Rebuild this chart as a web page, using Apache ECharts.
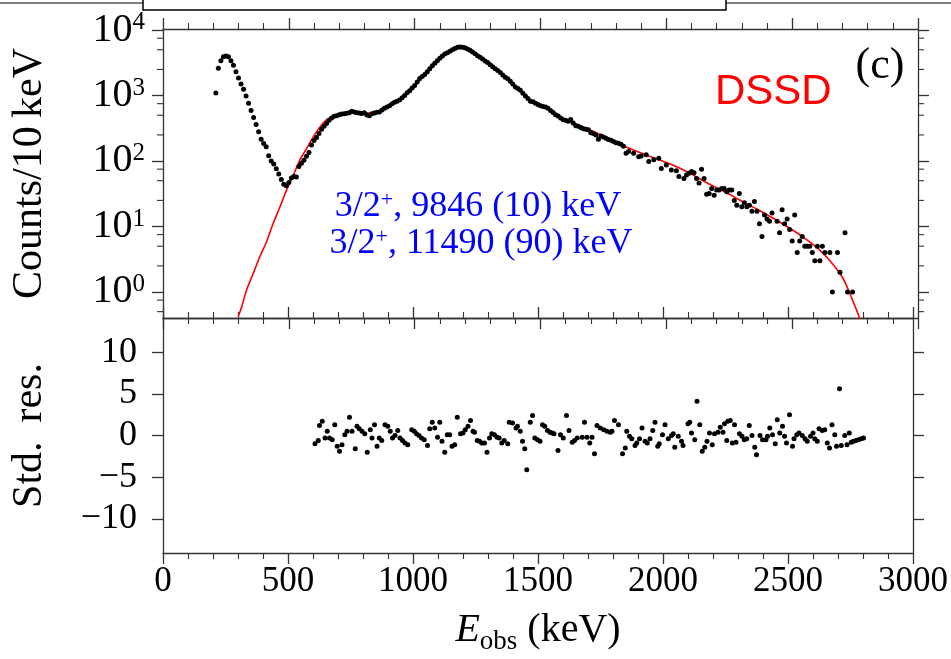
<!DOCTYPE html>
<html><head><meta charset="utf-8">
<script src="https://cdn.jsdelivr.net/npm/echarts@6/dist/echarts.min.js"></script>
<style>html,body{margin:0;padding:0;background:#fff}#c{width:951px;height:659px}</style>
</head><body><div id="c"></div>
<script>
// ---------- data ----------
const xTicks = [0, 500, 1000, 1500, 2000, 2500, 3000];
const countTicks = [1, 10, 100, 1000, 10000];
const countMinorTicks = [0.5, 0.75, 2.5, 5, 7.5, 25, 50, 75, 250, 500, 750, 2500, 5000, 7500];
const resTicks = [-10, -5, 0, 5, 10];

const dataE = [210,220,230,240,250,260,270,280,290,300,310,320,330,340,350,360,370,380,390,400,
410,420,430,440,450,460,470,480,490,500,510,520,530,540,550,560,570,580,590,600,
610,620,630,640,650,660,670,680,690,700,710,720,730,740,750,760,770,780,790,800,
810,820,830,840,850,860,870,880,890,900,910,920,930,940,950,960,970,980,990,1000,
1010,1020,1030,1040,1050,1060,1070,1080,1090,1100,1110,1120,1130,1140,1150,1160,1170,1180,1190,1200,
1210,1220,1230,1240,1250,1260,1270,1280,1290,1300,1310,1320,1330,1340,1350,1360,1370,1380,1390,1400,
1410,1420,1430,1440,1450,1460,1470,1480,1490,1500,1510,1520,1530,1540,1550,1560,1570,1580,1590,1600,
1610,1620,1630,1640,1650,1660,1670,1680,1690,1700,1710,1720,1730,1740,1750,1760,1770,1780,1790,1800,
1810,1820,1830,1840,1850,1870,1890,1900,1920,1930,1950,1970,1980,2000,2020,2040,2050,2070,2080,2090,
2100,2110,2120,2130,2140,2150,2160,2170,2180,2190,2200,2210,2220,2230,2240,2250,2260,2270,2280,2290,
2300,2310,2320,2330,2340,2350,2360,2370,2380,2390,2400,2410,2420,2440,2450,2460,2470,2480,2490,2500,
2510,2520,2530,2540,2550,2560,2570,2580,2590,2600,2610,2620,2630,2650,2660,2680,2690,2710,2720,2740];
const dataC = [1090,2600,3400,3900,4000,3900,3400,2900,2300,1850,1500,1250,980,760,590,460,360,280,215,185,
165,120,100,90,76,63,52,44,42,47,55,58,57,82,92,103,118,135,175,205,
228,262,305,340,375,420,455,480,490,510,520,525,535,545,575,560,545,540,530,545,
505,490,525,540,555,560,600,640,665,700,750,790,820,850,920,1000,1100,1180,1300,1420,
1600,1820,1950,2100,2300,2550,2850,3100,3400,3700,4000,4300,4500,4750,5000,5200,5450,5500,5450,5350,
5150,4900,4600,4350,4050,3850,3600,3350,3200,2950,2750,2550,2400,2250,2050,1900,1800,1650,1500,1350,
1280,1200,1080,980,900,820,800,760,730,700,680,670,640,590,550,510,485,455,425,420,
405,430,380,345,340,325,310,305,300,270,262,250,215,240,232,222,212,208,198,190,
186,180,168,131,139,131,116,119,124,98,104,110,77,87,73,71,58,54,61,65,
69,66,54,46,75,54,31,32,38,30,36,36,38,38,34,36,36,25,21,32,
20,23,20,21,17,24,17,11,7,15,13,12,16,12,8,18,11,13,9,6,
15,4,6,7,5,5,5,4,3,5,3,5,4,4,1,4,2,8,1,1];

const fitE = [299,313,332,359,385,412,438,465,491,518,544,571,597,624,650,690,730,770,810,850,
900,950,1000,1050,1100,1140,1180,1220,1260,1300,1350,1400,1450,1500,1550,1600,1650,1700,1750,1800,
1850,1900,1950,2000,2050,2100,2150,2200,2250,2300,2350,2400,2450,2500,2550,2600,2650,2700,2730,2750,2770,2790];
const fitV = [0.42,0.6,1.07,1.93,3.47,5.9,11.2,20,36,61,104,155,234,331,427,500,545,560,540,560,
720,930,1400,2280,3700,4750,5450,4900,3900,2950,2100,1400,920,710,550,427,355,295,240,192,
158,132,112,95,79,63,49,39,31,24.3,19.2,15.1,11.7,8.9,6.6,4.7,3.0,1.66,0.93,0.6,0.38,0.21];

const resE = [608,621,626,637,648,657,666,677,687,697,706,716,727,736,746,756,769,776,785,796,
807,817,829,836,846,856,865,875,888,899,909,918,928,939,948,958,968,979,995,1005,
1014,1024,1034,1045,1058,1067,1077,1087,1098,1107,1116,1127,1137,1147,1156,1167,1177,1190,1200,1209,
1220,1230,1240,1246,1257,1266,1275,1286,1296,1306,1315,1326,1336,1345,1355,1365,1379,1385,1398,1412,
1418,1429,1438,1447,1455,1469,1478,1487,1498,1508,1518,1527,1538,1548,1557,1564,1580,1590,1601,1614,
1624,1637,1646,1657,1677,1686,1696,1707,1716,1726,1736,1749,1763,1776,1789,1796,1806,1822,1838,1849,
1855,1866,1875,1888,1895,1906,1916,1928,1937,1948,1959,1968,1979,1985,1998,2008,2021,2034,2041,2047,
2061,2074,2080,2100,2107,2114,2127,2136,2147,2157,2167,2176,2186,2197,2206,2220,2229,2240,2246,2255,
2259,2269,2277,2286,2292,2306,2316,2325,2335,2345,2356,2367,2374,2388,2398,2412,2418,2427,2438,2449,
2457,2467,2478,2486,2494,2506,2518,2524,2535,2544,2557,2568,2577,2590,2600,2607,2617,2624,2637,2647,
2657,2666,2676,2687,2694,2706,2713,2727,2736,2745,2753,2762,2772,2782,2793,2802];
const resV = [-1.0,-0.6,1.2,1.7,-0.3,0.5,-0.3,-0.5,1.3,-1.3,-1.9,-1.1,0.1,0.5,2.2,0.5,-1.6,1.1,0.8,0.5,
0.2,-2.0,0.7,-0.3,1.3,-1.3,-0.3,-0.6,1.3,1.1,0.5,-0.3,0,0.6,-0.3,-0.6,-0.9,-1.1,0.7,0.5,
0.2,0,-0.3,-0.5,-1.2,0.8,1.6,0.9,-0.2,1.6,-0.7,-2.0,0.1,0.1,-1.3,-1.1,2.2,0.2,0.3,0.7,
1.1,1.8,0.5,0.4,-0.6,-0.7,-0.9,-0.9,-2.0,-0.3,0.2,0.1,-0.2,-0.3,-0.9,-0.6,-1.0,1.6,1.5,0.9,
1.1,0.5,-0.7,-1.6,-4.1,1.6,2.4,-0.3,-0.5,-0.7,1.3,1.1,0.6,0.4,0.3,0.2,-1.8,0.1,-0.3,2.4,
0.6,-0.8,-0.6,-0.3,-0.2,1.6,-0.2,-0.9,-0.2,-2.2,1.2,0.9,0.7,0.5,0.4,0.5,1.8,1.3,-2.2,-1.5,
0.5,-0.1,-0.4,-1.2,-0.9,-0.4,0.9,-0.7,-0.9,-0.4,0.6,1.6,-1.3,-1.0,0.1,1.3,-0.4,0,0.2,-1.4,
-0.1,-0.7,-1.2,1.4,1.6,0.3,-0.5,4.1,1.3,-1.9,-1.4,-0.7,0.3,-1.1,0.2,0.4,1.0,0.4,1.4,-0.6,
1.7,1.8,-0.9,1.3,-0.8,0.2,-0.1,-0.5,-0.4,1.2,0,-1.4,-2.3,0,-0.5,-0.5,-0.1,0.9,0.1,-1.0,
1.9,0.3,1.1,-0.1,-0.9,2.5,-1.3,-0.4,0.1,0.3,0,-0.4,-0.7,-0.1,0.3,-0.4,-0.7,0.8,0.6,0.7,
-0.9,-1.5,1.3,0.1,-1.3,5.6,-1.2,0,-1.1,0.3,-0.8,-0.7,-0.6,-0.5,-0.4,-0.3];

const stateLines = ['3/2{s|+}, 9846 (10) keV', '3/2{s|+}, 11490 (90) keV'];
const detectorLabel = 'DSSD';
const panelLabel = '(c)';

// ---------- chart ----------
const SERIF = '"Liberation Serif","Times New Roman",serif';
const AX = '#333';
const chart = echarts.init(document.getElementById('c'), null, {renderer: 'canvas'});

function xAxisDef(grid, pos, showLabel) {
  return {
    type: 'value', gridIndex: grid, position: pos, min: 0, max: 3000, interval: 500,
    axisLine: {show: true, onZero: false, lineStyle: {color: AX, width: 1.3}},
    axisTick: {show: true, inside: false, length: 11, lineStyle: {color: AX, width: 1.3}},
    minorTick: {show: true, splitNumber: 5, length: 6, lineStyle: {color: AX, width: 1.1}},
    splitLine: {show: false}, minorSplitLine: {show: false},
    axisLabel: {show: showLabel, color: '#000', fontFamily: SERIF, fontSize: 35, margin: 11,
      customValues: xTicks, showMinLabel: true, showMaxLabel: true, formatter: v => String(v)}
  };
}
function logAxisDef(pos, showLabel) {
  return {
    type: 'log', logBase: 10, gridIndex: 0, position: pos, min: 0.4, max: 10360,
    axisLine: {show: true, onZero: false, lineStyle: {color: AX, width: 1.3}},
    axisTick: {show: true, inside: false, length: 11, customValues: countTicks, lineStyle: {color: AX, width: 1.3}},
    splitLine: {show: false}, minorTick: {show: false},
    axisLabel: {show: showLabel, customValues: countTicks, margin: 18,
      formatter: v => '{b|10}{s|' + Math.round(Math.log10(v)) + '}',
      rich: {
        b: {fontFamily: SERIF, fontSize: 40, color: '#000', lineHeight: 40, verticalAlign: 'middle'},
        s: {fontFamily: SERIF, fontSize: 25, color: '#000', lineHeight: 25, verticalAlign: 'top'}
      }},
    name: showLabel ? 'Counts/10\u2009keV' : '', nameLocation: 'middle', nameRotate: 90, nameGap: 112,
    nameTextStyle: {fontFamily: SERIF, fontSize: 42, color: '#000'}
  };
}
function resAxisDef(pos, showLabel) {
  return {
    type: 'value', gridIndex: 1, position: pos, min: -14.1, max: 14.1,
    axisLine: {show: true, onZero: false, lineStyle: {color: AX, width: 1.3}},
    axisTick: {show: true, inside: false, length: 11, customValues: resTicks, lineStyle: {color: AX, width: 1.3}},
    splitLine: {show: false}, minorTick: {show: false},
    axisLabel: {show: showLabel, customValues: resTicks, margin: 26, color: '#000', fontFamily: SERIF, fontSize: 36,
      formatter: v => (v < 0 ? '\u2212' : '') + Math.abs(v)},
    name: showLabel ? 'Std.\u2009 res.' : '', nameLocation: 'middle', nameRotate: 90, nameGap: 112,
    nameTextStyle: {fontFamily: SERIF, fontSize: 42, color: '#000'}
  };
}

const xBottom = xAxisDef(1, 'bottom', true);
xBottom.name = '{i|E}{sub|obs} (keV)';
xBottom.nameLocation = 'middle';
xBottom.nameGap = 52;
xBottom.nameTextStyle = {fontFamily: SERIF, fontSize: 40, color: '#000', lineHeight: 50,
  rich: {
    i: {fontFamily: SERIF, fontSize: 40, fontStyle: 'italic', color: '#000', lineHeight: 50},
    sub: {fontFamily: SERIF, fontSize: 27, color: '#000', lineHeight: 27, verticalAlign: 'bottom'}
  }};

const option = {
  animation: false,
  backgroundColor: '#fff',
  grid: [
    {left: 163, right: 33, top: 29, height: 289},
    {left: 163, right: 33, top: 318, height: 235}
  ],
  xAxis: [xAxisDef(0, 'bottom', false), xAxisDef(0, 'top', false), xBottom, xAxisDef(1, 'top', false)],
  yAxis: [logAxisDef('left', true), logAxisDef('right', false), resAxisDef('left', true), resAxisDef('right', false)],
  series: [
    {type: 'line', name: 'fit', xAxisIndex: 0, yAxisIndex: 0, data: fitE.map((e, i) => [e, fitV[i]]),
      showSymbol: false, smooth: 0.3, clip: true, lineStyle: {color: '#ff0000', width: 1.6}, z: 2},
    {type: 'scatter', name: 'data', xAxisIndex: 0, yAxisIndex: 0, data: dataE.map((e, i) => [e, dataC[i]]),
      symbolSize: 5, itemStyle: {color: '#000', opacity: 1}, z: 3},
    {type: 'scatter', name: 'res', xAxisIndex: 2, yAxisIndex: 2, data: resE.map((e, i) => [e, resV[i]]),
      symbolSize: 5, itemStyle: {color: '#000', opacity: 1}, z: 3},
    {type: 'custom', name: 'minorTicks', xAxisIndex: 0, yAxisIndex: 0, clip: false, silent: true, z: 5,
      data: countMinorTicks.map(v => [xTicks[0], v]),
      renderItem: (params, api) => {
        const cs = params.coordSys;
        const y = api.coord([api.value(0), api.value(1)])[1];
        const st = {stroke: AX, lineWidth: 1.1};
        return {type: 'group', children: [
          {type: 'line', shape: {x1: cs.x - 6, y1: y, x2: cs.x, y2: y}, style: st},
          {type: 'line', shape: {x1: cs.x + cs.width, y1: y, x2: cs.x + cs.width + 6, y2: y}, style: st}
        ]};
      }}
  ],
  graphic: [
    {type: 'line', shape: {x1: 0, y1: 3, x2: 951, y2: 3}, style: {stroke: '#555', lineWidth: 1.5}, z: 0},
    {type: 'rect', shape: {x: 143, y: -6, width: 583, height: 16}, style: {fill: '#fff', stroke: '#000', lineWidth: 1.5}, z: 1},
    {type: 'text', x: 478, y: 207, z: 10, style: {text: stateLines[0], fontFamily: SERIF, fontSize: 36, fill: '#0000ff',
      align: 'center', verticalAlign: 'middle',
      rich: {s: {fontFamily: SERIF, fontSize: 22, fill: '#0000ff', lineHeight: 22, verticalAlign: 'top'}}}},
    {type: 'text', x: 481, y: 244, z: 10, style: {text: stateLines[1], fontFamily: SERIF, fontSize: 36, fill: '#0000ff',
      align: 'center', verticalAlign: 'middle',
      rich: {s: {fontFamily: SERIF, fontSize: 22, fill: '#0000ff', lineHeight: 22, verticalAlign: 'top'}}}},
    {type: 'text', x: 715, y: 92, z: 10, style: {text: detectorLabel, fontFamily: '"Liberation Sans",Arial,sans-serif',
      fontSize: 42, fill: '#ff0000', align: 'left', verticalAlign: 'middle'}},
    {type: 'text', x: 880, y: 66, z: 10, style: {text: panelLabel, fontFamily: SERIF, fontSize: 44, fill: '#000',
      align: 'center', verticalAlign: 'middle'}}
  ]
};
chart.setOption(option);
</script>
</body></html>
